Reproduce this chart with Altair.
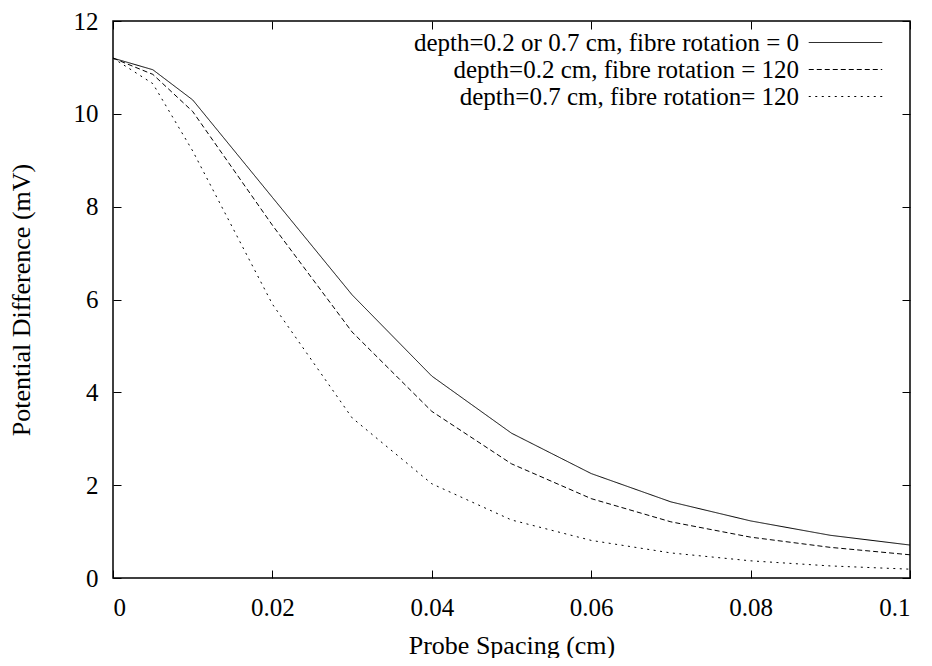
import altair as alt
import pandas as pd

spacing = [0, 0.005, 0.01, 0.02, 0.03, 0.04, 0.05, 0.06, 0.07, 0.08, 0.09, 0.1]
rot0 = [11.2, 10.95, 10.3, 8.2, 6.1, 4.35, 3.12, 2.25, 1.64, 1.23, 0.92, 0.71]
d02_rot120 = [11.2, 10.85, 10.05, 7.6, 5.3, 3.59, 2.46, 1.71, 1.21, 0.88, 0.66, 0.5]
d07_rot120 = [11.2, 10.65, 9.2, 5.9, 3.45, 2.03, 1.25, 0.81, 0.54, 0.37, 0.26, 0.19]
series_names = [
    "depth=0.2 or 0.7 cm, fibre rotation = 0",
    "depth=0.2 cm, fibre rotation = 120",
    "depth=0.7 cm, fibre rotation= 120",
]
x_ticks = [0, 0.02, 0.04, 0.06, 0.08, 0.1]
y_ticks = [0, 2, 4, 6, 8, 10, 12]

rows = []
for name, vals in zip(series_names, [rot0, d02_rot120, d07_rot120]):
    for s, v in zip(spacing, vals):
        rows.append({"spacing": s, "pd": v, "series": name})
df = pd.DataFrame(rows)

FONT = "Liberation Serif"
TICK = 8

xscale = alt.Scale(domain=[0, 0.1], nice=False, zero=False)
yscale = alt.Scale(domain=[0, 12], nice=False, zero=False)

lines = alt.Chart(df).mark_line(color="black", strokeWidth=1).encode(
    x=alt.X("spacing:Q", scale=xscale,
            axis=alt.Axis(orient="bottom", values=x_ticks, format="~g",
                          title="Probe Spacing (cm)", offset=-TICK,
                          labelPadding=17, titlePadding=12)),
    y=alt.Y("pd:Q", scale=yscale,
            axis=alt.Axis(orient="left", values=y_ticks, format="d",
                          title="Potential Difference (mV)", offset=-TICK,
                          labelPadding=15, titlePadding=39)),
    strokeDash=alt.StrokeDash(
        "series:N",
        scale=alt.Scale(domain=series_names, range=[[1, 0], [5, 3], [2, 4.5]]),
        legend=alt.Legend(title=None, orient="none", legendX=720, legendY=9,
                          symbolType="M-5,0H5", symbolSize=216,
                          symbolStrokeColor="black", symbolStrokeWidth=1,
                          symbolFillColor="transparent",
                          labelAlign="right", labelOffset={"expr": "-59"}, labelLimit=0,
                          labelFont=FONT, labelFontSize=25, labelColor="black",
                          rowPadding=1, padding=0),
    ),
)

mirror = alt.Chart(df).mark_line(opacity=0).encode(
    x=alt.X("spacing:Q", scale=xscale,
            axis=alt.Axis(orient="top", values=x_ticks, labels=False, title=None,
                          offset=-TICK)),
    y=alt.Y("pd:Q", scale=yscale,
            axis=alt.Axis(orient="right", values=y_ticks, labels=False, title=None,
                          offset=-TICK)),
)

chart = (
    alt.layer(lines, mirror)
    .resolve_axis(x="independent", y="independent")
    .properties(width=797, height=557, background="white",
                autosize=alt.AutoSizeParams(type="none"),
                padding={"left": 105, "top": 13, "right": 14, "bottom": 80})
    .configure_view(stroke="black", strokeWidth=1.5)
    .configure_axis(domain=False, grid=False, tickColor="black", tickSize=TICK,
                    tickWidth=1, labelFont=FONT, labelFontSize=25, labelColor="black",
                    titleFont=FONT, titleFontSize=26, titleFontWeight="normal",
                    titleColor="black")
)

chart.save("out.html", embed_options={"renderer": "svg", "actions": False})
